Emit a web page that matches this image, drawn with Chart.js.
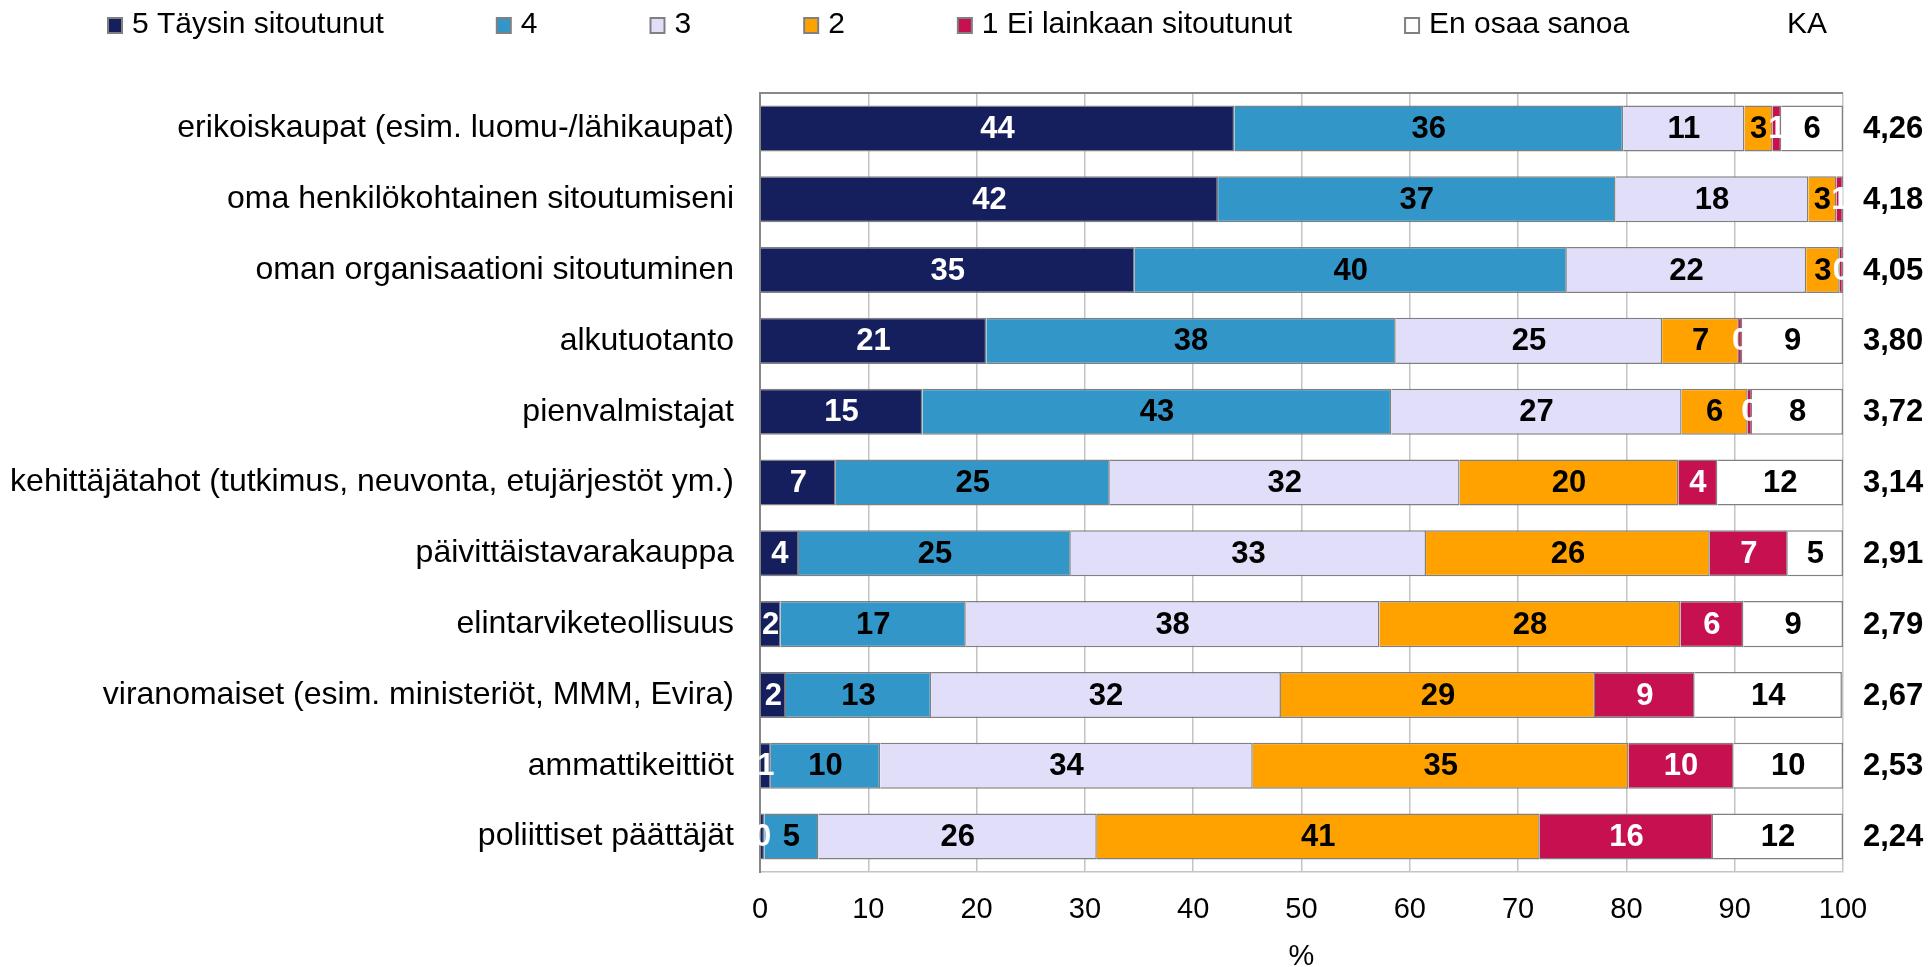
<!DOCTYPE html>
<html>
<head>
<meta charset="utf-8">
<script src="https://cdn.jsdelivr.net/npm/chart.js@4.4.0/dist/chart.umd.min.js"></script>
<style>
  html, body { margin: 0; padding: 0; background: #fff; }
</style>
</head>
<body>
<canvas id="chart" width="1928" height="967"></canvas>
<script>
const categories = [
  "erikoiskaupat (esim. luomu-/lähikaupat)",
  "oma henkilökohtainen sitoutumiseni",
  "oman organisaationi sitoutuminen",
  "alkutuotanto",
  "pienvalmistajat",
  "kehittäjätahot (tutkimus, neuvonta, etujärjestöt ym.)",
  "päivittäistavarakauppa",
  "elintarviketeollisuus",
  "viranomaiset (esim. ministeriöt, MMM, Evira)",
  "ammattikeittiöt",
  "poliittiset päättäjät"
];

const seriesNames = ["5 Täysin sitoutunut", "4", "3", "2", "1 Ei lainkaan sitoutunut", "En osaa sanoa"];

// % shares
const s5  = [43.8, 42.3, 34.6, 20.9, 15.0, 7.0, 3.6, 1.9, 2.4, 1.0, 0.4];
const s4  = [35.9, 36.7, 39.9, 37.8, 43.3, 25.3, 25.1, 17.1, 13.4, 10.1, 5.0];
const s3  = [11.2, 17.8, 22.1, 24.6, 26.8, 32.3, 32.8, 38.2, 32.3, 34.4, 25.7];
const s2  = [2.6, 2.6, 3.1, 7.1, 6.1, 20.2, 26.2, 27.8, 29.0, 34.7, 40.9];
const s1  = [0.8, 0.6, 0.3, 0.3, 0.4, 3.6, 7.2, 5.8, 9.2, 9.7, 16.0];
const eos = [5.7, 0, 0, 9.3, 8.4, 11.6, 5.1, 9.2, 13.6, 10.1, 12.0];

const ka = ["4,26", "4,18", "4,05", "3,80", "3,72", "3,14", "2,91", "2,79", "2,67", "2,53", "2,24"];

const xTicks = [0, 10, 20, 30, 40, 50, 60, 70, 80, 90, 100];

const colors = ["#151F5E", "#3396C8", "#E1DEFA", "#FFA200", "#C7104F", "#FFFFFF"];
const labelColors = ["#fff", "#000", "#000", "#000", "#fff", "#000"];
const FONT = '"Liberation Sans", Arial, sans-serif';

const datasets = [s5, s4, s3, s2, s1, eos].map((d, i) => ({
  label: seriesNames[i],
  data: d,
  backgroundColor: colors[i],
  borderColor: "#808080",
  borderWidth: 1.5,
  categoryPercentage: 0.65,
  barPercentage: 1
}));

// values inside the bars + KA column
const segLabels = {
  id: "segLabels",
  afterDatasetsDraw(chart) {
    const ctx = chart.ctx;
    ctx.save();
    ctx.font = "bold 31px " + FONT;
    ctx.textAlign = "center";
    ctx.textBaseline = "middle";
    chart.data.datasets.forEach((ds, i) => {
      chart.getDatasetMeta(i).data.forEach((bar, j) => {
        const v = ds.data[j];
        if (!v) return;
        ctx.fillStyle = labelColors[i];
        ctx.fillText(Math.round(v), (bar.x + bar.base) / 2, bar.y + 1);
      });
    });
    const yScale = chart.scales.y;
    ctx.fillStyle = "#000";
    ctx.textAlign = "left";
    ka.forEach((k, j) => {
      ctx.fillText(k, chart.chartArea.right + 20, yScale.getPixelForValue(j) + 1);
    });
    ctx.restore();
  }
};

// frame top line
const frame = {
  id: "frame",
  beforeDatasetsDraw(chart) {
    const { ctx, chartArea: a } = chart;
    ctx.save();
    ctx.strokeStyle = "#888";
    ctx.lineWidth = 2;
    ctx.beginPath();
    ctx.moveTo(a.left, a.top);
    ctx.lineTo(a.right, a.top);
    ctx.stroke();
    ctx.restore();
  }
};

// legend row at top
const topLegend = {
  id: "topLegend",
  afterDraw(chart) {
    const ctx = chart.ctx;
    const y = 25;
    let x = 108;
    ctx.save();
    ctx.font = "30px " + FONT;
    ctx.textBaseline = "middle";
    ctx.textAlign = "left";
    chart.data.datasets.forEach(ds => {
      ctx.fillStyle = ds.backgroundColor;
      ctx.fillRect(x, y - 7, 14, 15);
      ctx.strokeStyle = "#808080";
      ctx.lineWidth = 2;
      ctx.strokeRect(x, y - 7, 14, 15);
      ctx.fillStyle = "#000";
      ctx.fillText(ds.label, x + 24, y);
      x += 24 + ctx.measureText(ds.label).width + 113;
    });
    ctx.fillText("KA", chart.chartArea.right - 56, y);
    ctx.restore();
  }
};

new Chart(document.getElementById("chart"), {
  type: "bar",
  data: { labels: categories, datasets },
  plugins: [frame, segLabels, topLegend],
  options: {
    indexAxis: "y",
    responsive: false,
    animation: false,
    devicePixelRatio: 1,
    layout: { padding: { top: 93, right: 85, left: 0, bottom: 0 } },
    plugins: {
      legend: { display: false },
      tooltip: { enabled: false }
    },
    scales: {
      x: {
        stacked: true,
        min: 0,
        max: 100,
        afterFit: s => { s.height = 95; },
        afterBuildTicks: s => { s.ticks = xTicks.map(v => ({ value: v })); },
        grid: { color: "#c4c4c4", lineWidth: 1.5, drawTicks: false },
        border: { color: "#c4c4c4", width: 1.5 },
        ticks: { color: "#000", padding: 21, font: { family: FONT, size: 29 } },
        title: {
          display: true,
          text: "%",
          color: "#000",
          font: { family: FONT, size: 29, lineHeight: 1 },
          padding: { top: 0, bottom: -4 }
        }
      },
      y: {
        stacked: true,
        afterFit: s => { s.width = 760; },
        grid: { display: false, drawTicks: false },
        border: { color: "#888", width: 2 },
        ticks: { color: "#000", padding: 26, font: { family: FONT, size: 32 } }
      }
    }
  }
});
</script>
</body>
</html>
